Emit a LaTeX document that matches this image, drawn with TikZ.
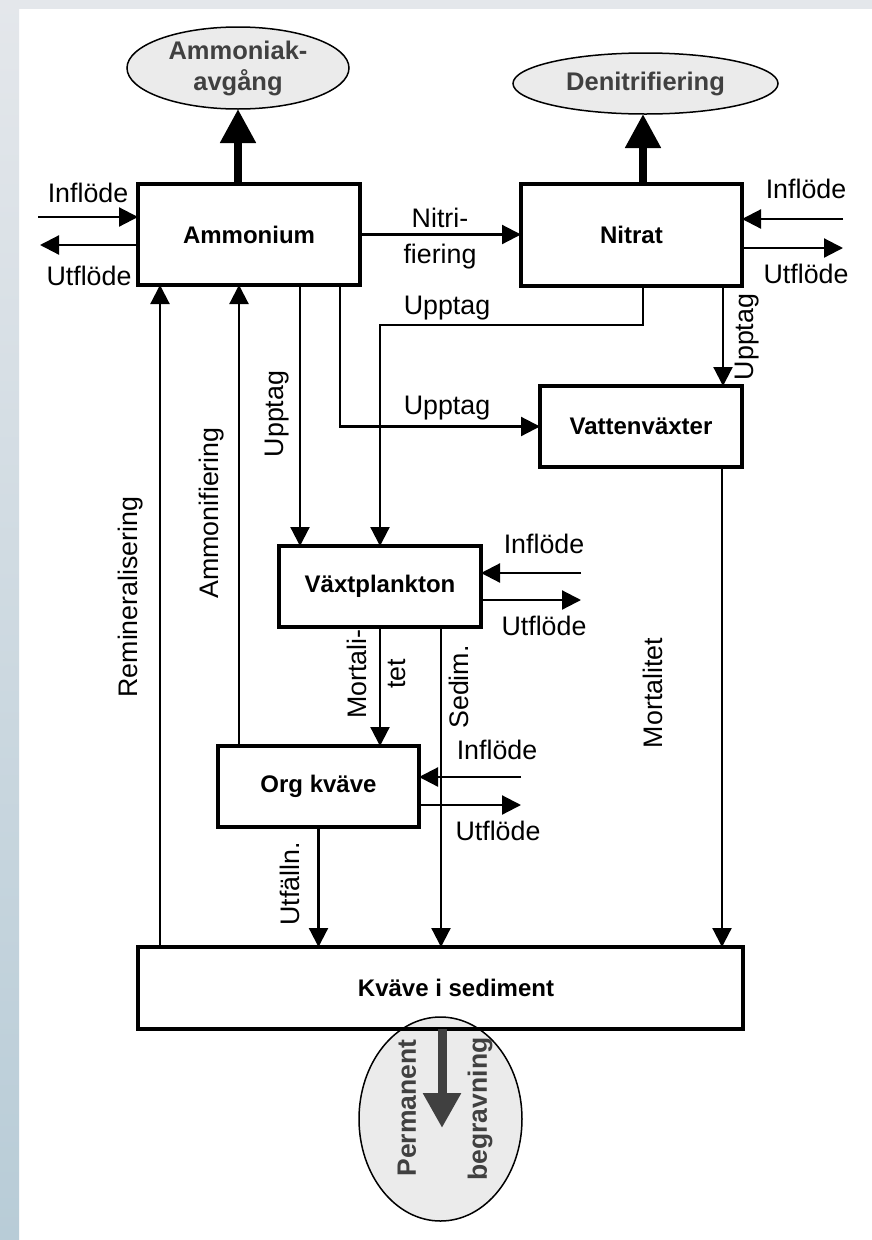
\documentclass[tikz,border=0pt]{standalone}
\usepackage{fontspec}
\setmainfont{Liberation Sans}
\usetikzlibrary{arrows.meta,shapes.geometric,calc}
\definecolor{ellgrey}{HTML}{EBEBEB}
\definecolor{txtgrey}{HTML}{404040}
\definecolor{stripA}{HTML}{E4E7EB}
\definecolor{stripB}{HTML}{B8CCD7}
\begin{document}
\begin{tikzpicture}[x=1pt,y=-1pt,
  box/.style={draw, line width=3.2pt, inner sep=0pt, outer sep=0pt, font=\bfseries\fontsize{24}{28}\selectfont},
  boxlbl/.style={inner sep=0pt, font=\bfseries\fontsize{24}{28}\selectfont},
  lbl/.style={inner sep=0pt, font=\fontsize{26.8}{31}\selectfont},
  rlbl/.style={lbl, rotate=90},
  ell/.style={ellipse, draw, line width=1.5pt, fill=ellgrey, inner sep=0pt, outer sep=0pt, text=txtgrey, font=\bfseries\fontsize{25.5}{31}\selectfont, align=center},
  ln/.style={line width=2.2pt},
  arr/.style={ln, -{Triangle[length=19pt,width=19pt]}},
  bigarr/.style={line width=8pt, -{Triangle[length=34pt,width=34pt]}},
]
\useasboundingbox (0,0) rectangle (872,1240);
\fill[white] (0,0) rectangle (872,1240);
\shade[top color=stripA, bottom color=stripB] (0,0) rectangle (19,1240);
\fill[stripA] (0,0) rectangle (872,9);

% boxes
\node[box, minimum width=222pt, minimum height=101pt] (amm) at (249,234.5) {Ammonium};
\node[box, minimum width=221pt, minimum height=102pt] (nit) at (631.5,235) {Nitrat};
\node[box, minimum width=202pt, minimum height=81pt] (vat) at (641,426.5) {Vattenväxter};
\node[box, minimum width=202pt, minimum height=81pt] (vxt) at (380,586.5) {Växtplankton};
\node[box, minimum width=201pt, minimum height=81pt] (org) at (318.5,786.5) {Org kväve};
\node[ell, minimum width=163pt, minimum height=204pt] (perm) at (440.5,1119) {};
\node[box, minimum width=605pt, minimum height=82pt] (sed) at (440.5,988) {};
\node[boxlbl] at ([xshift=15.5pt]sed.center) {Kväve i sediment};
\node[ell, minimum width=222pt, minimum height=82pt] (ammel) at (238,68) {Ammoniak-\\avgång};
\node[ell, minimum width=265pt, minimum height=61pt] (denit) at (645.5,83.5) {Denitrifiering};

% thick arrows to ellipses
\draw[bigarr] (amm.north -| ammel.south) -- (ammel.south);
\coordinate (dn) at (643,150);
\draw[bigarr] (nit.north -| dn) -- (dn |- denit.south);

% nitrification
\draw[arr] (amm.east) -- (amm.east -| nit.west);

% uptake
\path ([xshift=21pt]vxt.north west) coordinate (u1);
\draw[arr] (u1 |- amm.south) -- (u1);
\path ([xshift=-20pt]amm.south east) coordinate (u2);
\draw[arr] (u2) |- (vat.west);
\path ([xshift=122pt]nit.south west) coordinate (n1);
\draw[arr] (n1) -- ++(0,39) -| (vxt.north);
\path ([xshift=-19pt]nit.south east) coordinate (n2);
\draw[arr] (n2) -- (n2 |- vat.north);

% back to ammonium
\path ([xshift=22pt]amm.south west) coordinate (r1);
\draw[arr] (sed.north -| r1) -- (r1);
\path ([xshift=21pt]org.north west) coordinate (a1);
\draw[arr] (a1) -- (a1 |- amm.south);

% downward flows
\draw[arr] (vxt.south) -- (vxt.south |- org.north);
\path ([xshift=-40pt]vxt.south east) coordinate (s1);
\draw[arr] (s1) -- (s1 |- sed.north);
\draw[arr] (org.south) -- (org.south |- sed.north);
\path ([xshift=-20pt]vat.south east) coordinate (m1);
\draw[arr] (m1) -- (m1 |- sed.north);

% in/out flows
\coordinate (ai) at (38,217);
\coordinate (ao) at (40,245);
\draw[arr] (ai) -- (ai -| amm.west);
\draw[arr] (ao -| amm.west) -- (ao);
\coordinate (ni) at (843,219);
\coordinate (no) at (843,248);
\draw[arr] (ni) -- (ni -| nit.east);
\draw[arr] (no -| nit.east) -- (no);
\coordinate (vi) at (581,573);
\coordinate (vo) at (581,600);
\draw[arr] (vi) -- (vi -| vxt.east);
\draw[arr] (vo -| vxt.east) -- (vo);
\coordinate (oi) at (521,777);
\coordinate (oo) at (521,805);
\draw[arr] (oi) -- (oi -| org.east);
\draw[arr] (oo -| org.east) -- (oo);

% permanent burial
\coordinate (pt) at (442,1128);
\draw[line width=9pt, txtgrey, -{Triangle[length=35pt,width=36pt]}] (pt |- sed.south) -- (pt);
\node[rlbl, font=\bfseries\fontsize{26.5}{31}\selectfont, text=txtgrey] at (407,1108) {Permanent};
\node[rlbl, font=\bfseries\fontsize{26.5}{31}\selectfont, text=txtgrey] at (480,1109) {begravning};

% horizontal labels
\node[lbl, anchor=base] at (88,202) {Inflöde};
\node[lbl, anchor=base] at (89,285) {Utflöde};
\node[lbl, anchor=base] at (806,198) {Inflöde};
\node[lbl, anchor=base] at (806,283) {Utflöde};
\node[lbl, anchor=base] at (544,553) {Inflöde};
\node[lbl, anchor=base] at (544,635) {Utflöde};
\node[lbl, anchor=base] at (497,759) {Inflöde};
\node[lbl, anchor=base] at (498,840) {Utflöde};
\node[lbl, anchor=base] at (440,227) {Nitri-};
\node[lbl, anchor=base] at (440,263) {fiering};
\node[lbl, anchor=base] at (447,314) {Upptag};
\node[lbl, anchor=base] at (447,414) {Upptag};

% rotated labels
\node[rlbl] at (131,597) {Remineralisering};
\node[rlbl] at (212,513) {Ammonifiering};
\node[rlbl] at (277,414) {Upptag};
\node[rlbl] at (747,337) {Upptag};
\node[rlbl, align=center, font=\fontsize{26.8}{39}\selectfont] at (376,674) {Mortali-\\tet};
\node[rlbl] at (459,687) {Sedim.};
\node[rlbl] at (653,693) {Mortalitet};
\node[rlbl] at (290,884) {Utfälln.};
\end{tikzpicture}
\end{document}
